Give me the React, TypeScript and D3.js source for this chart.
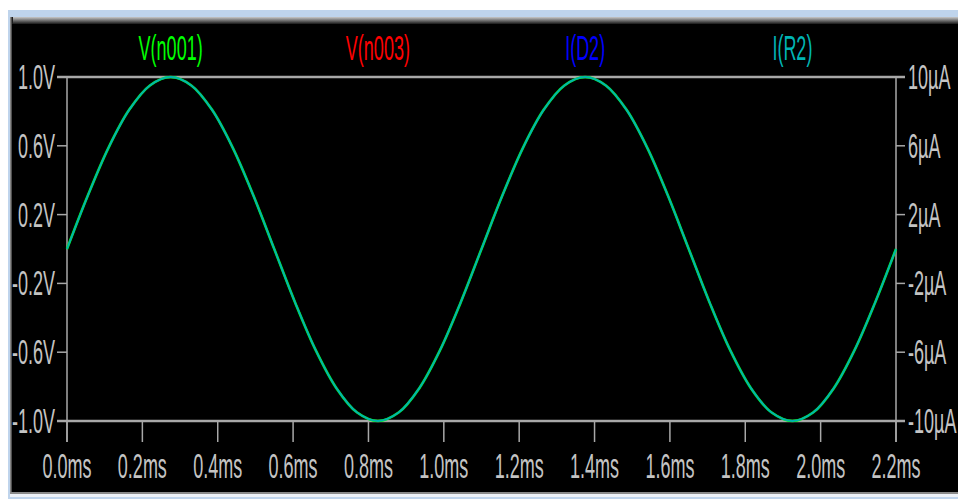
import React from "react";
import * as d3 from "d3";

const times = [
  0, 0.055, 0.11, 0.165, 0.22, 0.275, 0.33, 0.385, 0.44, 0.495, 0.55,
  0.605, 0.66, 0.715, 0.77, 0.825, 0.88, 0.935, 0.99, 1.045, 1.1,
  1.155, 1.21, 1.265, 1.32, 1.375, 1.43, 1.485, 1.54, 1.595, 1.65,
  1.705, 1.76, 1.815, 1.87, 1.925, 1.98, 2.035, 2.09, 2.145, 2.2,
];
const vN001 = [
  0, 0.309, 0.588, 0.809, 0.951, 1.0, 0.951, 0.809, 0.588, 0.309, 0,
  -0.309, -0.588, -0.809, -0.951, -1.0, -0.951, -0.809, -0.588, -0.309, 0,
  0.309, 0.588, 0.809, 0.951, 1.0, 0.951, 0.809, 0.588, 0.309, 0,
  -0.309, -0.588, -0.809, -0.951, -1.0, -0.951, -0.809, -0.588, -0.309, 0,
];
const iR2 = [
  0, 3.09, 5.88, 8.09, 9.51, 10.0, 9.51, 8.09, 5.88, 3.09, 0,
  -3.09, -5.88, -8.09, -9.51, -10.0, -9.51, -8.09, -5.88, -3.09, 0,
  3.09, 5.88, 8.09, 9.51, 10.0, 9.51, 8.09, 5.88, 3.09, 0,
  -3.09, -5.88, -8.09, -9.51, -10.0, -9.51, -8.09, -5.88, -3.09, 0,
];
const xTicks = [0, 0.2, 0.4, 0.6, 0.8, 1.0, 1.2, 1.4, 1.6, 1.8, 2.0, 2.2];
const xTickLabels = ["0.0ms", "0.2ms", "0.4ms", "0.6ms", "0.8ms", "1.0ms", "1.2ms", "1.4ms", "1.6ms", "1.8ms", "2.0ms", "2.2ms"];
const yLeftTicks = [1.0, 0.6, 0.2, -0.2, -0.6, -1.0];
const yLeftLabels = ["1.0V", "0.6V", "0.2V", "-0.2V", "-0.6V", "-1.0V"];
const yRightTicks = [10, 6, 2, -2, -6, -10];
const yRightLabels = ["10µA", "6µA", "2µA", "-2µA", "-6µA", "-10µA"];
const legendNames = ["V(n001)", "V(n003)", "I(D2)", "I(R2)"];
const legendColors = ["#00ff00", "#ff0000", "#0000ff", "#00b4b4"];

const W = 958;
const H = 499;
const L = 67;
const R = 896;
const T = 77;
const B = 421;
const FONT = "'Liberation Sans', Arial, sans-serif";
const SX = 0.5;
const FS = 36;
const GRAY = "#a8a8a8";
const TXT = "#c4c4c4";

export default function App() {
  const x = d3.scaleLinear().domain([0, 2.2]).range([L, R]);
  const yL = d3.scaleLinear().domain([-1, 1]).range([B, T]);
  const yR = d3.scaleLinear().domain([-10, 10]).range([B, T]);

  const lineV = d3
    .line<number>()
    .x((_, i) => x(times[i]))
    .y((d) => yL(d))
    .curve(d3.curveCatmullRom);
  const lineI = d3
    .line<number>()
    .x((_, i) => x(times[i]))
    .y((d) => yR(d))
    .curve(d3.curveCatmullRom);

  const legendStep = (R - L) / legendNames.length;

  const label = (
    key: string,
    tx: number,
    ty: number,
    text: string,
    anchor: string,
    fill: string
  ) => (
    <text
      key={key}
      transform={`translate(${tx},${ty}) scale(${SX},1)`}
      textAnchor={anchor}
      fill={fill}
      fontFamily={FONT}
      fontSize={FS}
    >
      {text}
    </text>
  );

  return (
    <div style={{ position: "absolute", left: 0, top: 0 }}>
      <svg width={W} height={H} style={{ display: "block" }}>
        <defs>
          <linearGradient id="topg" x1="0" y1="0" x2="0" y2="1">
            <stop offset="0" stopColor="#c8c8c8" />
            <stop offset="1" stopColor="#000" />
          </linearGradient>
          <linearGradient id="leftg" x1="0" y1="0" x2="1" y2="0">
            <stop offset="0" stopColor="#a0a0a0" />
            <stop offset="1" stopColor="#000" />
          </linearGradient>
        </defs>
        <rect x={0} y={0} width={W} height={H} fill="#ffffff" />
        <rect x={8} y={10} width={W - 8} height={H - 10} fill="#bfd4ec" />
        <rect x={10} y={17} width={W - 10} height={8} fill="url(#topg)" />
        <rect x={10} y={17} width={3} height={476} fill="url(#leftg)" />
        <rect x={12} y={24} width={W - 12} height={468} fill="#000" />
        <rect x={10} y={492} width={W - 10} height={2} fill="#8a8a8a" />
        <rect x={10} y={494} width={W - 10} height={3} fill="#eef2f8" />

        {/* legend */}
        {legendNames.map((n, i) =>
          label("lg" + i, L + legendStep * (i + 0.5), 60, n, "middle", legendColors[i])
        )}

        {/* frame lines */}
        <line x1={L - 10} x2={R + 9} y1={yL(1)} y2={yL(1)} stroke={GRAY} strokeWidth={2.5} />
        <line x1={L - 10} x2={R + 9} y1={yL(-1)} y2={yL(-1)} stroke={GRAY} strokeWidth={2.5} />
        <line x1={L} x2={L} y1={T} y2={B + 21} stroke={GRAY} strokeWidth={1.5} />
        <line x1={R} x2={R} y1={T} y2={B + 21} stroke={GRAY} strokeWidth={1.5} />

        {/* left ticks */}
        {yLeftTicks.map((v, i) => (
          <g key={"yl" + i}>
            <line x1={L - 10} x2={L} y1={yL(v)} y2={yL(v)} stroke={GRAY} strokeWidth={1.5} />
            {label("yll" + i, L - 12, yL(v) + 12, yLeftLabels[i], "end", TXT)}
          </g>
        ))}
        {/* right ticks */}
        {yRightTicks.map((v, i) => (
          <g key={"yr" + i}>
            <line x1={R} x2={R + 9} y1={yR(v)} y2={yR(v)} stroke={GRAY} strokeWidth={1.5} />
            {label("yrl" + i, R + 12, yR(v) + 12, yRightLabels[i], "start", TXT)}
          </g>
        ))}
        {/* x ticks */}
        {xTicks.map((v, i) => (
          <g key={"x" + i}>
            <line x1={x(v)} x2={x(v)} y1={B} y2={B + 21} stroke={GRAY} strokeWidth={1.5} />
            {label("xl" + i, x(v), 478, xTickLabels[i], "middle", TXT)}
          </g>
        ))}

        {/* traces */}
        <path d={lineV(vN001) || ""} fill="none" stroke="#00ff00" strokeWidth={2.6} />
        <path d={lineI(iR2) || ""} fill="none" stroke="#00b0b0" strokeWidth={1.9} />
      </svg>
    </div>
  );
}
